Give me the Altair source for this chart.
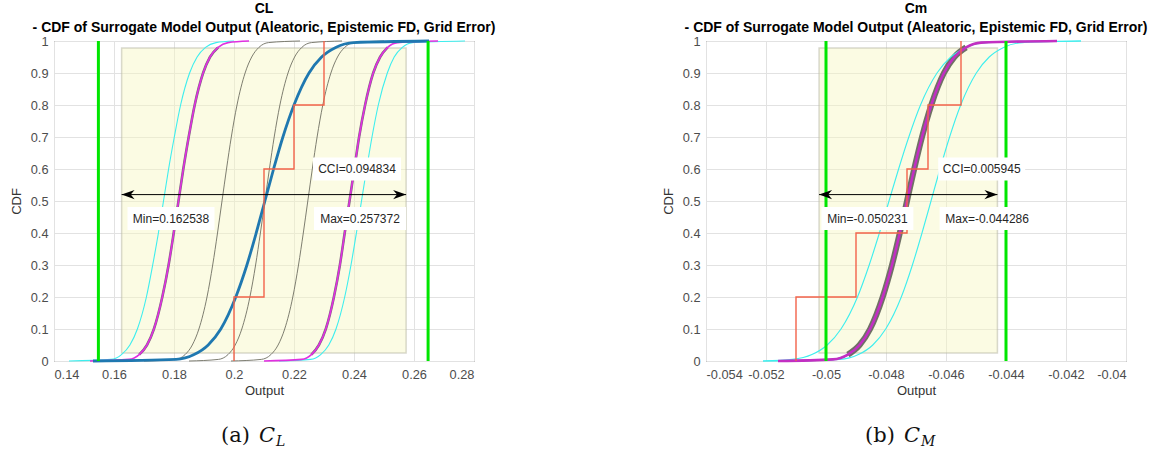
import altair as alt
import pandas as pd

P = [0, 0.005, 0.02, 0.05, 0.1, 0.2, 0.3, 0.4, 0.5, 0.6, 0.7, 0.8, 0.9, 0.95, 0.98, 0.995, 1]

# ---------------- CL panel ----------------
cl_cyan_1 = [0.145, 0.1590, 0.1625, 0.1653, 0.1678, 0.1708, 0.1729, 0.1748, 0.1765, 0.1782, 0.1801, 0.1822, 0.1852, 0.1877, 0.1905, 0.1940, 0.200]
cl_magenta_1 = [0.152, 0.1650, 0.1684, 0.1710, 0.1733, 0.1761, 0.1782, 0.1799, 0.1815, 0.1831, 0.1849, 0.1869, 0.1897, 0.1920, 0.1947, 0.1980, 0.205]
cl_gray_1 = [0.170, 0.1805, 0.1837, 0.1861, 0.1883, 0.1910, 0.1929, 0.1945, 0.1960, 0.1975, 0.1991, 0.2010, 0.2037, 0.2059, 0.2083, 0.2115, 0.222]
cl_gray_2 = [0.185, 0.1948, 0.1980, 0.2004, 0.2026, 0.2053, 0.2072, 0.2088, 0.2103, 0.2118, 0.2134, 0.2153, 0.2180, 0.2202, 0.2226, 0.2258, 0.236]
cl_gray_3 = [0.199, 0.2091, 0.2123, 0.2147, 0.2169, 0.2196, 0.2215, 0.2231, 0.2246, 0.2261, 0.2277, 0.2296, 0.2323, 0.2345, 0.2369, 0.2401, 0.250]
cl_mean = [0.153, 0.1807, 0.1867, 0.1914, 0.1956, 0.2006, 0.2043, 0.2074, 0.2103, 0.2132, 0.2163, 0.2200, 0.2250, 0.2292, 0.2339, 0.2399, 0.265]
cl_magenta_2 = [0.210, 0.2225, 0.2258, 0.2283, 0.2306, 0.2333, 0.2353, 0.2369, 0.2385, 0.2401, 0.2417, 0.2437, 0.2464, 0.2487, 0.2512, 0.2545, 0.268]
cl_cyan_2 = [0.215, 0.2255, 0.2289, 0.2316, 0.2340, 0.2369, 0.2390, 0.2408, 0.2425, 0.2442, 0.2460, 0.2481, 0.2511, 0.2534, 0.2561, 0.2595, 0.277]
cl_step_x = [0.20, 0.20, 0.21, 0.22, 0.23]
cl_step_p = [0.0, 0.2, 0.6, 0.8, 1.0]
cl_green = [0.1548, 0.2647]
cl_min, cl_max, cl_cci = 0.162538, 0.257372, 0.094834
cl_xticks = [0.14, 0.16, 0.18, 0.20, 0.22, 0.24, 0.26, 0.28]

# ---------------- Cm panel ----------------
cm_cyan_1 = [-0.0521, -0.05112, -0.05047, -0.04996, -0.0495, -0.04895, -0.04856, -0.04822, -0.0479, -0.04758, -0.04724, -0.04685, -0.0463, -0.04584, -0.04533, -0.04468, -0.0415]
cm_band = [-0.0516, -0.04977, -0.04927, -0.04888, -0.04853, -0.04811, -0.0478, -0.04754, -0.0473, -0.04706, -0.0468, -0.04649, -0.04607, -0.04572, -0.04533, -0.04483, -0.0423]
cm_cyan_2 = [-0.0521, -0.04954, -0.04892, -0.04844, -0.04801, -0.04749, -0.04712, -0.0468, -0.0465, -0.0462, -0.04588, -0.04551, -0.04499, -0.04456, -0.04408, -0.04346, -0.0415]
cm_step_x = [-0.051, -0.051, -0.049, -0.0473, -0.0466, -0.0455]
cm_step_p = [0.0, 0.2, 0.4, 0.6, 0.8, 1.0]
cm_green = [-0.050, -0.044]
cm_min, cm_max, cm_cci = -0.050231, -0.044286, 0.005945
cm_xticks = [-0.054, -0.052, -0.050, -0.048, -0.046, -0.044, -0.042, -0.040]

y_ticks = [0, 0.1, 0.2, 0.3, 0.4, 0.5, 0.6, 0.7, 0.8, 0.9, 1]
rect_p = [0.025, 0.978]
arrow_p = 0.52
cci_p = 0.6
minmax_p = 0.445
# annotation label centres (x in data units)
cl_label_x = {"cci": 0.241, "min": 0.179, "max": 0.242}
cm_label_x = {"cci": -0.04481, "min": -0.04862, "max": -0.04463}

subtitle = "- CDF of Surrogate Model Output (Aleatoric, Epistemic FD, Grid Error)"

FONT = "Liberation Sans"
TXT = "#262626"
LABEL_EXPR = "replace(format(datum.value, '~g'), '\u2212', '-')"


def curve_df(xs, name, lo=0, hi=None):
    hi = len(P) if hi is None else hi
    return pd.DataFrame({"x": xs[lo:hi], "p": P[lo:hi], "i": list(range(lo, hi)), "c": name})


def panel(domain, xticks, curves, step_x, step_p, green, vmin, vmax, cci,
          label_x, box_w, title_line1, caption_parts):
    X = alt.X("x:Q", scale=alt.Scale(domain=domain, nice=False, zero=False),
              axis=alt.Axis(values=xticks, labelExpr=LABEL_EXPR, title="Output", grid=True,
                            tickSize=0, domain=False, labelPadding=7,
                            labelOverlap=False, titlePadding=4))
    Y = alt.Y("p:Q", scale=alt.Scale(domain=[0, 1], nice=False, zero=False),
              axis=alt.Axis(values=y_ticks, tickCount=11, labelExpr=LABEL_EXPR, title="CDF",
                            grid=True, tickSize=0, domain=False, labelPadding=6,
                            labelOverlap=False, titlePadding=7))

    layers = []
    base_df = pd.DataFrame({"x": [domain[0]], "p": [0]})
    layers.append(alt.Chart(base_df).mark_point(opacity=0).encode(x=X, y=Y))

    # yellow region between min and max
    rect_df = pd.DataFrame({"x": [vmin], "x2": [vmax], "p": [rect_p[0]], "p2": [rect_p[1]]})
    layers.append(alt.Chart(rect_df).mark_rect(
        fill="#f7f7c0", fillOpacity=0.45, stroke="#b9b9a8", strokeOpacity=0.55,
        strokeWidth=1.5).encode(x=X, x2="x2", y=Y, y2="p2"))

    for xs, name, color, width, lo, hi in curves:
        layers.append(alt.Chart(curve_df(xs, name, lo, hi)).mark_line(
            color=color, strokeWidth=width, interpolate="monotone").encode(
            x=X, y=Y, order="i:Q"))

    # empirical CDF steps
    st_df = pd.DataFrame({"x": step_x, "p": step_p, "i": list(range(len(step_x)))})
    layers.append(alt.Chart(st_df).mark_line(
        color="#f2634a", strokeWidth=1.4, interpolate="step-after").encode(
        x=X, y=Y, order="i:Q"))

    # green bounds
    g_df = pd.DataFrame({"x": green})
    layers.append(alt.Chart(g_df).mark_rule(color="#00e600", strokeWidth=3).encode(x=X))

    # double arrow
    a_df = pd.DataFrame({"x": [vmin], "x2": [vmax], "p": [arrow_p]})
    layers.append(alt.Chart(a_df).mark_rule(color="#000000", strokeWidth=1).encode(
        x=X, x2="x2", y=Y))
    head_l = "M 0 0 L 2 -0.7 L 1.4 0 L 2 0.7 Z"
    head_r = "M 0 0 L -2 -0.7 L -1.4 0 L -2 0.7 Z"
    layers.append(alt.Chart(pd.DataFrame({"x": [vmin], "p": [arrow_p]})).mark_point(
        shape=head_l, filled=True, color="#000000", size=169, opacity=1).encode(x=X, y=Y))
    layers.append(alt.Chart(pd.DataFrame({"x": [vmax], "p": [arrow_p]})).mark_point(
        shape=head_r, filled=True, color="#000000", size=169, opacity=1).encode(x=X, y=Y))

    labels = [
        ("cci", cci_p, "CCI=%g" % cci),
        ("min", minmax_p, "Min=%g" % vmin),
        ("max", minmax_p, "Max=%g" % vmax),
    ]
    for key, pv, txt in labels:
        w = box_w[key]
        k = 11.5 / (w / 2.0)
        shape = "M -1 %.4f L 1 %.4f L 1 %.4f L -1 %.4f Z" % (-k, -k, k, k)
        d = pd.DataFrame({"x": [label_x[key]], "p": [pv], "t": [txt]})
        layers.append(alt.Chart(d).mark_point(
            shape=shape, filled=True, color="white", size=w * w, opacity=1).encode(
            x=X, y=Y))
        layers.append(alt.Chart(d).mark_text(
            font=FONT, fontSize=12, color=TXT, align="center", baseline="middle").encode(
            x=X, y=Y, text="t:N"))

    # panel titles (two bold lines above the plot)
    for txt, ypx in [(title_line1, -32), (subtitle, -13)]:
        layers.append(alt.Chart(pd.DataFrame({"t": [txt]})).mark_text(
            font=FONT, fontSize=14, fontWeight="bold", color="#000000",
            align="center", baseline="middle").encode(
            x=alt.value(210), y=alt.value(ypx), text="t:N"))

    # sub-figure caption
    for txt, xpx, ypx, size, style in caption_parts:
        layers.append(alt.Chart(pd.DataFrame({"t": [txt]})).mark_text(
            font="DejaVu Serif", fontSize=size, fontStyle=style, color="#111111",
            align="left", baseline="alphabetic").encode(
            x=alt.value(xpx), y=alt.value(ypx), text="t:N"))

    return alt.layer(*layers).properties(width=420, height=320)


left = panel(
    [0.14, 0.28], cl_xticks,
    [
        (cl_cyan_1, "c1", "#3deeee", 1.1, 0, None),
        (cl_cyan_2, "c2", "#3deeee", 1.1, 0, None),
        (cl_magenta_1, "m1g", "#7a6a7a", 2.6, 2, 15),
        (cl_magenta_2, "m2g", "#7a6a7a", 2.6, 2, 15),
        (cl_magenta_1, "m1", "#e030e0", 1.6, 0, None),
        (cl_magenta_2, "m2", "#e030e0", 1.6, 0, None),
        (cl_gray_1, "g1", "#6f6f62", 0.9, 0, None),
        (cl_gray_2, "g2", "#6f6f62", 0.9, 0, None),
        (cl_gray_3, "g3", "#6f6f62", 0.9, 0, None),
        (cl_mean, "b", "#1f78b0", 2.8, 0, None),
    ],
    cl_step_x, cl_step_p, cl_green, cl_min, cl_max, cl_cci, cl_label_x,
    {"cci": 88, "min": 87, "max": 92}, "CL",
    [("(a)", 167, 401, 21, "normal"), ("C", 205, 401, 21, "italic"),
     ("L", 222, 405, 14, "italic")])

right = panel(
    [-0.054, -0.040], cm_xticks,
    [
        (cm_band, "b", "#3a6fd0", 1.5, 0, None),
        (cm_band, "g", "#707066", 6.0, 2, 15),
        (cm_cyan_1, "c1", "#3deeee", 1.1, 0, None),
        (cm_cyan_2, "c2", "#3deeee", 1.1, 0, None),
        (cm_band, "m", "#c22fc2", 2.6, 0, None),
    ],
    cm_step_x, cm_step_p, cm_green, cm_min, cm_max, cm_cci, cm_label_x,
    {"cci": 87, "min": 92, "max": 95}, "Cm",
    [("(b)", 159, 401, 21, "normal"), ("C", 198, 401, 21, "italic"),
     ("M", 215, 405, 14, "italic")])

chart = alt.hconcat(left, right, spacing=165).properties(
    padding={"left": 9, "top": 1, "right": 5, "bottom": 0}
).configure(
    font=FONT
).configure_view(
    stroke="#555555", strokeWidth=1
).configure_axis(
    labelFont=FONT, labelFontSize=12.8, labelColor="#4d4d4d",
    titleFont=FONT, titleFontSize=13, titleColor="#333333", titleFontWeight="normal",
    gridColor="#e2e2e2", gridWidth=1
)

chart.save("out.html", embed_options={"renderer": "svg", "actions": False})
